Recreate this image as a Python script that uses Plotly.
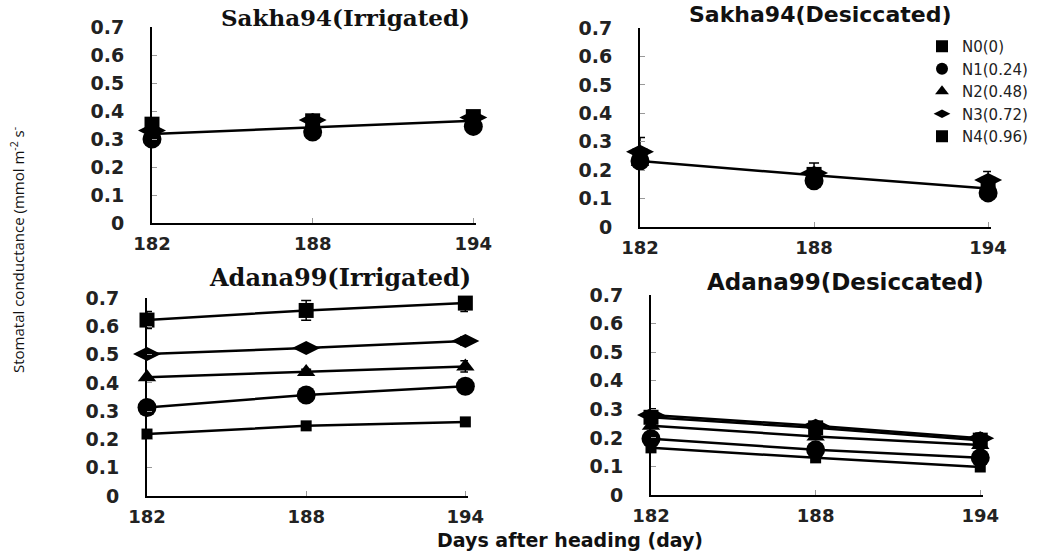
import plotly.graph_objects as go

# ---------------- data ----------------
days = [182, 188, 194]
series_names = ["N0(0)", "N1(0.24)", "N2(0.48)", "N3(0.72)", "N4(0.96)"]
y_ticks = [0, 0.1, 0.2, 0.3, 0.4, 0.5, 0.6, 0.7]
y_tick_text = ["0", "0.1", "0.2", "0.3", "0.4", "0.5", "0.6", "0.7"]

panel_titles = ["Sakha94(Irrigated)", "Sakha94(Desiccated)",
                "Adana99(Irrigated)", "Adana99(Desiccated)"]

# Sakha94 irrigated (N0..N4)
sakha_irr = [[0.315, 0.34, 0.36],
             [0.30, 0.325, 0.345],
             [0.32, 0.343, 0.364],
             [0.33, 0.368, 0.377],
             [0.353, 0.365, 0.38]]
sakha_irr_err = [None, None, None, None, [0.02, 0.015, 0.015]]
sakha_irr_line = [0.318, 0.342, 0.365]

# Sakha94 desiccated
sakha_des = [[0.24, 0.175, 0.14],
             [0.232, 0.163, 0.12],
             [0.229, 0.18, 0.137],
             [0.265, 0.19, 0.165],
             [0.25, 0.185, 0.15]]
sakha_des_err = [None, None, None, [0.05, 0.035, 0.03], None]
sakha_des_line = [0.232, 0.182, 0.135]

# Adana99 irrigated
adana_irr = [[0.219, 0.248, 0.262],
             [0.313, 0.357, 0.388],
             [0.42, 0.438, 0.458],
             [0.502, 0.523, 0.548],
             [0.622, 0.656, 0.682]]
adana_irr_err = [None, None, [0.0, 0.01, 0.02], [0.0, 0.01, 0.015], [0.03, 0.035, 0.03]]

# Adana99 desiccated
adana_des = [[0.165, 0.13, 0.098],
             [0.197, 0.158, 0.13],
             [0.242, 0.205, 0.175],
             [0.28, 0.242, 0.199],
             [0.272, 0.235, 0.192]]
adana_des_err = [None, None, None, [0.022, 0.012, 0.018], None]

# ---------------- style ----------------
W, H = 1058, 552


def px(xp):
    return xp / W


def py(yp):
    return 1 - yp / H


symbols = ["square", "circle", "triangle-up", "diamond-wide", "square"]
sizes = [11, 19, 16, 20, 15]

# reference pixel boxes: (x_left, x_right, y_top, y_bottom)
boxes = [(152, 476, 27, 223), (640, 991, 28, 227),
         (147, 468, 298, 496), (651, 983, 295, 495)]

fig = go.Figure()


def add_series(panel_idx, data, errs, with_lines, legend):
    ax = "" if panel_idx == 0 else str(panel_idx + 1)
    for i, name in enumerate(series_names):
        e = errs[i]
        fig.add_trace(go.Scatter(
            x=days, y=data[i], name=name,
            mode="lines+markers" if with_lines else "markers",
            marker=dict(symbol=symbols[i], size=sizes[i], color="black"),
            line=dict(color="black", width=2.5),
            error_y=dict(type="data", array=e, color="black", thickness=1.5,
                         width=5, visible=e is not None),
            xaxis="x" + ax, yaxis="y" + ax,
            showlegend=legend, cliponaxis=False,
        ))


def add_line(panel_idx, vals):
    ax = "" if panel_idx == 0 else str(panel_idx + 1)
    fig.add_trace(go.Scatter(
        x=days, y=vals, mode="lines", line=dict(color="black", width=2.5),
        xaxis="x" + ax, yaxis="y" + ax, showlegend=False, cliponaxis=False,
    ))


add_series(0, sakha_irr, sakha_irr_err, False, False)
add_line(0, sakha_irr_line)
add_series(1, sakha_des, sakha_des_err, False, True)
add_line(1, sakha_des_line)
add_series(2, adana_irr, adana_irr_err, True, False)
add_series(3, adana_des, adana_des_err, True, False)

ytick_font = dict(family="DejaVu Sans", size=19, color="#222222", weight="bold")
xtick_font = dict(family="DejaVu Sans", size=18, color="#222222", weight="bold")

layout = dict(
    width=W, height=H,
    margin=dict(l=0, r=0, t=0, b=0, autoexpand=False),
    paper_bgcolor="white", plot_bgcolor="white",
    font=dict(family="DejaVu Sans", color="black"),
    legend=dict(x=px(922), y=py(30), xanchor="left", yanchor="top",
                font=dict(family="DejaVu Sans", size=15, color="#222222"),
                bgcolor="rgba(0,0,0,0)", tracegroupgap=0, itemwidth=30,
                itemsizing="constant"),
)

for k, (xl, xr, yt, yb) in enumerate(boxes):
    ax = "" if k == 0 else str(k + 1)
    layout["xaxis" + ax] = dict(
        domain=[px(xl), px(xr)], range=[182, 194.1], anchor="y" + ax,
        tickvals=days, ticktext=[str(d) for d in days],
        ticks="inside", ticklen=5, tickcolor="#999999",
        showline=True, linecolor="black", linewidth=2,
        showgrid=False, zeroline=False, tickfont=xtick_font,
        ticklabelstandoff=3, automargin=False,
    )
    layout["yaxis" + ax] = dict(
        domain=[py(yb), py(yt)], range=[0, 0.7], anchor="x" + ax,
        tickvals=y_ticks, ticktext=y_tick_text,
        ticks="inside", ticklen=5, tickcolor="#999999",
        showline=True, linecolor="black", linewidth=2,
        showgrid=False, zeroline=False, tickfont=ytick_font,
        ticklabelstandoff=22, automargin=False,
    )

fig.update_layout(**layout)

title_pos = [(345, 17, "DejaVu Serif", 23), (820, 14, "DejaVu Sans", 22),
             (340, 277, "DejaVu Serif", 24), (845, 282, "DejaVu Sans", 23)]
for (cx, cy, fam, fs), t in zip(title_pos, panel_titles):
    fig.add_annotation(x=px(cx), y=py(cy), xref="paper", yref="paper",
                       text="<b>" + t + "</b>", showarrow=False,
                       font=dict(family=fam, size=fs, color="#111111"),
                       xanchor="center", yanchor="middle")

fig.add_annotation(x=px(17), y=py(250), xref="paper", yref="paper",
                   text="Stomatal conductance (mmol m<sup>-2</sup> s<sup>-</sup>",
                   textangle=-90, showarrow=False,
                   font=dict(family="Open Sans", size=15, color="#111111"),
                   xanchor="center", yanchor="middle")

fig.add_annotation(x=px(570), y=py(540), xref="paper", yref="paper",
                   text="<b>Days after heading (day)</b>", showarrow=False,
                   font=dict(family="DejaVu Sans", size=19, color="#111111"),
                   xanchor="center", yanchor="middle")

# remove the default 8px page margin so the 1058x552 figure fills the window
fig.write_html("out.html",
               config={"displayModeBar": False},
               post_script="document.body.style.margin='0px';"
                           "document.body.style.overflow='hidden';")
